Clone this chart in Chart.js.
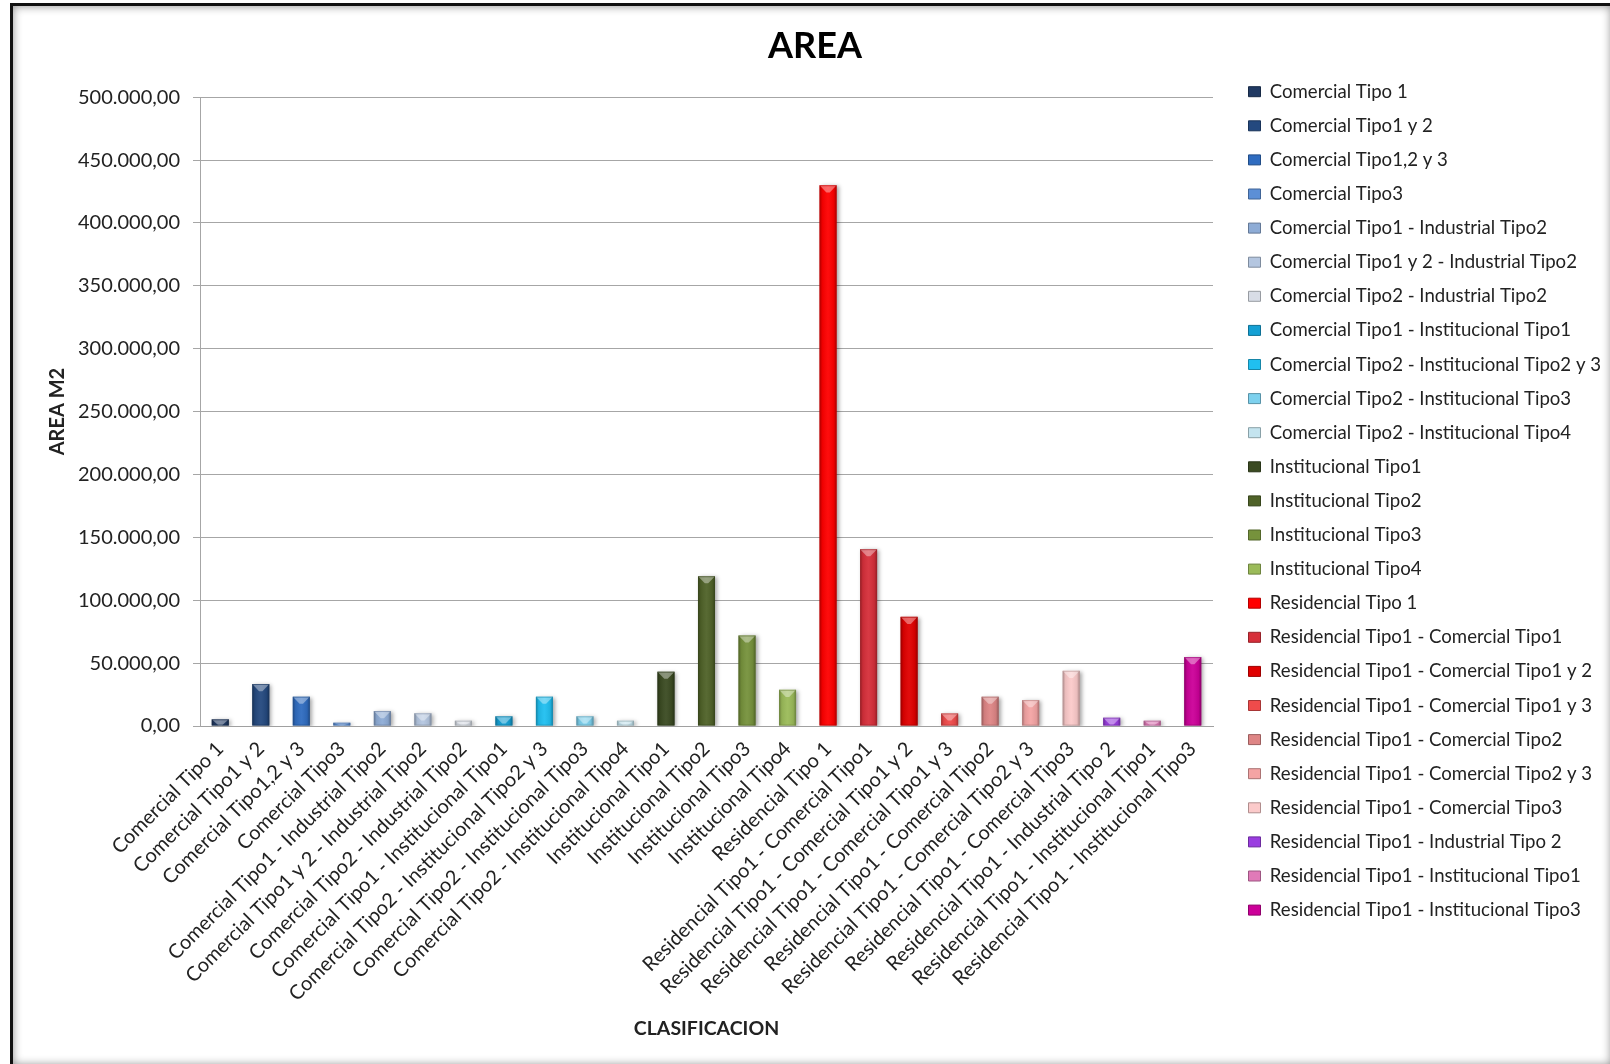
<!DOCTYPE html>
<html>
<head>
<meta charset="utf-8">
<title>AREA</title>
<script src="https://cdn.jsdelivr.net/npm/chart.js@4/dist/chart.umd.min.js"></script>
<style>
  html, body { margin: 0; padding: 0; background: #fff; overflow: hidden; width: 1610px; height: 1064px; }
  #frame {
    position: absolute; left: 10px; top: 3px; width: 1604px; height: 1065px;
    box-sizing: border-box; border: 3px solid #111;
    box-shadow: inset 0 0 10px rgba(0,0,0,0.45);
  }
  #chart { position: absolute; left: 0; top: 0; }
</style>
</head>
<body>
<div id="frame"></div>
<canvas id="chart" width="1610" height="1064"></canvas>
<script>
// Land-use classes
const categories = [
  'Comercial Tipo 1',
  'Comercial Tipo1 y 2',
  'Comercial Tipo1,2 y 3',
  'Comercial Tipo3',
  'Comercial Tipo1 - Industrial Tipo2',
  'Comercial Tipo1 y 2 - Industrial Tipo2',
  'Comercial Tipo2 - Industrial Tipo2',
  'Comercial Tipo1 - Institucional Tipo1',
  'Comercial Tipo2 - Institucional Tipo2 y 3',
  'Comercial Tipo2 - Institucional Tipo3',
  'Comercial Tipo2 - Institucional Tipo4',
  'Institucional Tipo1',
  'Institucional Tipo2',
  'Institucional Tipo3',
  'Institucional Tipo4',
  'Residencial Tipo 1',
  'Residencial Tipo1 - Comercial Tipo1',
  'Residencial Tipo1 - Comercial Tipo1 y 2',
  'Residencial Tipo1 - Comercial Tipo1 y 3',
  'Residencial Tipo1 - Comercial Tipo2',
  'Residencial Tipo1 - Comercial Tipo2 y 3',
  'Residencial Tipo1 - Comercial Tipo3',
  'Residencial Tipo1 - Industrial Tipo 2',
  'Residencial Tipo1 - Institucional Tipo1',
  'Residencial Tipo1 - Institucional Tipo3'
];

// Area per class, m2
const areaValues = [
  5300, 33400, 23300, 2600, 11900, 10100, 4200, 7700, 23300, 7700, 4200,
  43200, 119100, 72000, 28800,
  430000, 140600, 86800, 10000, 23300, 20600, 43900, 6600, 4200, 54800
];

// One colour per class
const barColors = [
  '#213a63', '#24497f', '#2f6cc0', '#5c8fd6', '#8eacd6', '#b4c6e0', '#d8dde6',
  '#14a0d4', '#20bff0', '#7dd1ee', '#c4e4ef',
  '#3b4b22', '#4f6228', '#76923c', '#9bbb59',
  '#ff0000', '#d62f3a', '#e00000', '#ef4b4b', '#de8585', '#f4a4a4', '#fbcaca',
  '#9a3de0', '#e07ab8', '#cc0099'
];

// Value axis
const yMin = 0;
const yMax = 500000;
const yStep = 50000;

function formatArea(v) {
  const parts = Number(v).toFixed(2).split('.');
  return parts[0].replace(/\B(?=(\d{3})+(?!\d))/g, '.') + ',' + parts[1];
}

function darken(hex, f) {
  const n = parseInt(hex.slice(1), 16);
  const r = Math.round(((n >> 16) & 255) * f);
  const g = Math.round(((n >> 8) & 255) * f);
  const b = Math.round((n & 255) * f);
  return 'rgb(' + r + ',' + g + ',' + b + ')';
}

// Soft shadow under the bars plus a bevelled face on each one
const bevelBars = {
  id: 'bevelBars',
  beforeDatasetDraw(chart) {
    const ctx = chart.ctx;
    ctx.save();
    ctx.shadowColor = 'rgba(0,0,0,0.35)';
    ctx.shadowBlur = 4;
    ctx.shadowOffsetX = 2;
    ctx.shadowOffsetY = 1;
  },
  afterDatasetDraw(chart, args) {
    const ctx = chart.ctx;
    ctx.restore();
    ctx.save();
    args.meta.data.forEach((bar, i) => {
      const p = bar.getProps(['x', 'y', 'base', 'width'], true);
      const left = p.x - p.width / 2;
      const right = p.x + p.width / 2;
      const h = p.base - p.y;
      if (h <= 0) return;
      const g = ctx.createLinearGradient(left, 0, right, 0);
      g.addColorStop(0, 'rgba(0,0,0,0.32)');
      g.addColorStop(0.16, 'rgba(0,0,0,0.07)');
      g.addColorStop(0.5, 'rgba(255,255,255,0.05)');
      g.addColorStop(0.84, 'rgba(0,0,0,0.07)');
      g.addColorStop(1, 'rgba(0,0,0,0.32)');
      ctx.fillStyle = g;
      ctx.fillRect(left, p.y, p.width, h);
      // top bevel
      const bh = Math.min(p.width * 0.42, h);
      ctx.beginPath();
      ctx.moveTo(left, p.y);
      ctx.lineTo(right, p.y);
      ctx.lineTo(p.x + p.width * 0.1, p.y + bh);
      ctx.lineTo(p.x - p.width * 0.1, p.y + bh);
      ctx.closePath();
      ctx.fillStyle = 'rgba(255,255,255,0.38)';
      ctx.fill();
      ctx.strokeStyle = darken(barColors[i], 0.75);
      ctx.globalAlpha = 0.6;
      ctx.lineWidth = 1;
      ctx.strokeRect(left + 0.5, p.y + 0.5, p.width - 1, h - 1);
      ctx.globalAlpha = 1;
    });
    ctx.restore();
  }
};

Chart.defaults.font.family = 'Lato';

new Chart(document.getElementById('chart'), {
  type: 'bar',
  data: {
    labels: categories,
    datasets: [{
      label: 'AREA',
      data: areaValues,
      backgroundColor: barColors,
      borderWidth: 0,
      categoryPercentage: 1,
      barPercentage: 0.42
    }]
  },
  options: {
    responsive: false,
    animation: false,
    layout: { padding: { left: 20, right: 0, top: 10, bottom: 10 } },
    plugins: {
      title: {
        display: true,
        text: 'AREA',
        color: '#000',
        font: { family: 'Lato', size: 36, weight: 'bold' },
        padding: { top: 15, bottom: 29 }
      },
      legend: {
        display: true,
        position: 'right',
        align: 'start',
        maxWidth: 377,
        onClick: null,
        title: { display: true, text: '', font: { size: 10 }, padding: { top: 0, bottom: 44.9 } },
        labels: {
          boxWidth: 12,
          boxHeight: 10,
          padding: 15.5,
          color: '#222',
          font: { family: 'Lato', size: 18.6 },
          generateLabels() {
            return categories.map((name, i) => ({
              text: name,
              fillStyle: barColors[i],
              strokeStyle: darken(barColors[i], 0.7),
              lineWidth: 1,
              hidden: false,
              index: i,
              fontColor: '#222'
            }));
          }
        }
      },
      tooltip: { enabled: false }
    },
    scales: {
      x: {
        grid: { display: false, drawTicks: false },
        border: { display: true, color: '#a0a0a0', width: 1 },
        ticks: {
          autoSkip: false, minRotation: 45, maxRotation: 45, padding: 11,
          color: '#222', font: { family: 'Lato', size: 20 }
        },
        title: {
          display: true, text: 'CLASIFICACION', color: '#222',
          font: { family: 'Lato', size: 19.5, weight: 'bold' },
          padding: { top: 0, bottom: 13.5 }
        },
        afterFit(s) { s.height = 328; }
      },
      y: {
        min: yMin, max: yMax,
        ticks: {
          stepSize: yStep, padding: 13, color: '#222',
          font: { family: 'Lato', size: 20 },
          callback: v => formatArea(v)
        },
        grid: { color: '#a6a6a6', lineWidth: 1, tickLength: 7, drawTicks: true },
        border: { display: true, color: '#a6a6a6' },
        title: {
          display: true, text: 'AREA M2', color: '#222',
          font: { family: 'Lato', size: 20, weight: 'bold' },
          padding: { top: 26, bottom: 0 }
        },
        afterFit(s) { s.width = 180; }
      },
      gap: {
        position: 'right', display: true,
        grid: { display: false, drawTicks: false },
        border: { display: false },
        ticks: { display: false },
        afterFit(s) { s.width = 20; }
      }
    }
  },
  plugins: [bevelBars]
});
</script>
</body>
</html>
